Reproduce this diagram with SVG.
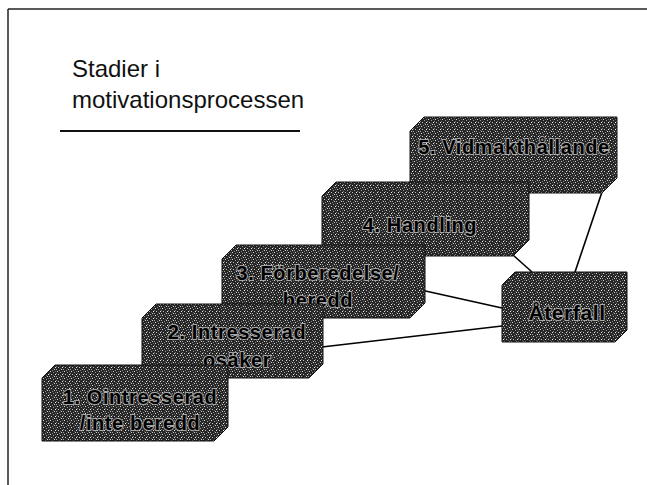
<svg xmlns="http://www.w3.org/2000/svg" width="647" height="485" viewBox="0 0 647 485">
<defs>
<pattern id="tex" width="7" height="7" patternUnits="userSpaceOnUse">
<rect width="7" height="7" fill="#262626"/>
<rect x="1" y="0" width="1" height="1" fill="#d8d8d8"/>
<rect x="4" y="1" width="1" height="1" fill="#9a9a9a"/>
<rect x="6" y="0" width="1" height="1" fill="#6a6a6a"/>
<rect x="2" y="3" width="1" height="1" fill="#c4c4c4"/>
<rect x="6" y="3" width="1" height="1" fill="#eeeeee"/>
<rect x="0" y="2" width="1" height="1" fill="#808080"/>
<rect x="0" y="5" width="1" height="1" fill="#a8a8a8"/>
<rect x="5" y="5" width="1" height="1" fill="#d0d0d0"/>
<rect x="3" y="6" width="1" height="1" fill="#8a8a8a"/>
<rect x="4" y="4" width="1" height="1" fill="#5c5c5c"/>
</pattern>
<marker id="ah" markerWidth="8" markerHeight="8" refX="7" refY="4" orient="auto" markerUnits="userSpaceOnUse">
<path d="M0,0 L8,4 L0,8 z" fill="#000"/>
</marker>
</defs>
<style>
.box{fill:url(#tex);stroke:#111;stroke-width:1}
.lbl{font-family:"Liberation Sans",Arial,sans-serif;font-weight:bold;font-size:20px;fill:#000;stroke:#a8a8a8;stroke-width:1.8;paint-order:stroke;text-anchor:middle;letter-spacing:0.6px}
.title{font-family:"Liberation Sans",Arial,sans-serif;font-size:24px;fill:#111}
.con{stroke:#000;stroke-width:1.6;fill:none}
</style>
<g id="frame" stroke="#222" stroke-width="1.5">
<line x1="8" y1="9" x2="647" y2="9"/>
<line x1="8" y1="9" x2="8" y2="485"/>
</g>
<g id="title">
<text class="title" x="72" y="77">Stadier i</text>
<text class="title" x="72" y="108">motivationsprocessen</text>
<line x1="60" y1="131" x2="300" y2="131" stroke="#111" stroke-width="2"/>
</g>
<g id="connectors">
<line class="con" x1="602" y1="192" x2="575" y2="272"/>
<line class="con" x1="513" y1="255" x2="532" y2="272"/>
<line class="con" x1="502" y1="308" x2="412" y2="288" marker-end="url(#ah)"/>
<line class="con" x1="502" y1="326" x2="322" y2="347"/>
</g>
<g id="stage5">
<path class="box" d="M424,117 L617,117 L617,178 L602,193 L410,193 L410,131 Z"/>
<text class="lbl" x="514" y="154">5. Vidmakthållande</text>
</g>
<g id="stage4">
<path class="box" d="M336,182 L529,182 L529,240 L513,256 L322,256 L322,196 Z"/>
<text class="lbl" x="420" y="232">4. Handling</text>
</g>
<g id="stage3">
<path class="box" d="M236,245 L425,245 L425,303 L410,318 L222,318 L222,259 Z"/>
<text class="lbl" x="318" y="280">3. Förberedelse/</text>
<text class="lbl" x="318" y="307">beredd</text>
</g>
<g id="stage2">
<path class="box" d="M156,304 L323,304 L323,364 L309,378 L142,378 L142,318 Z"/>
<text class="lbl" x="237" y="339">2. Intresserad</text>
<text class="lbl" x="237" y="367">osäker</text>
</g>
<g id="stage1">
<path class="box" d="M55,365 L228,365 L228,427 L214,441 L42,441 L42,378 Z"/>
<text class="lbl" x="140" y="404">1. Ointresserad</text>
<text class="lbl" x="140" y="430">/inte beredd</text>
</g>
<g id="relapse">
<path class="box" d="M515,272 L627,272 L627,330 L615,342 L502,342 L502,285 Z"/>
<text class="lbl" x="567" y="320" style="font-size:21px">Återfall</text>
</g>
</svg>
